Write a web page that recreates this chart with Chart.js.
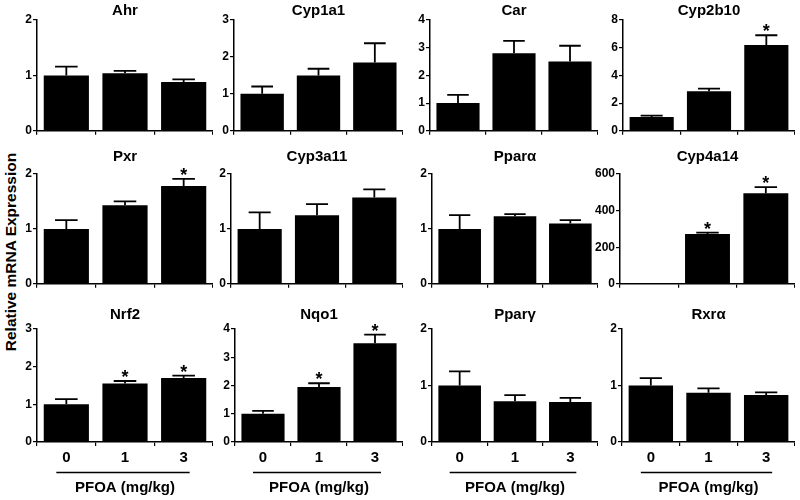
<!DOCTYPE html>
<html>
<head>
<meta charset="utf-8">
<script src="https://cdn.jsdelivr.net/npm/chart.js@4.4.0/dist/chart.umd.min.js"></script>
<style>
  html, body { margin: 0; padding: 0; background: #fff; }
  #wrap { position: relative; width: 800px; height: 500px; overflow: hidden; }
  #wrap canvas { position: absolute; }
  #ylabel {
    position: absolute; left: 11px; top: 252px;
    transform: translate(-50%, -50%) rotate(-90deg);
    font: bold 15.5px 'Liberation Sans', Arial, sans-serif;
    white-space: nowrap; color: #000;
  }
</style>
</head>
<body>
<div id="wrap"><div id="ylabel">Relative mRNA Expression</div></div>
<script>
// PFOA doses on the x axis
const doses = ['0', '1', '3'];
const genes = ['Ahr', 'Cyp1a1', 'Car', 'Cyp2b10', 'Pxr', 'Cyp3a11', 'Pparα', 'Cyp4a14', 'Nrf2', 'Nqo1', 'Pparγ', 'Rxrα'];

// mean relative expression per gene (0, 1, 3 mg/kg)
const meanExpr = [
  [1.0, 1.04, 0.88], [1.0, 1.5, 1.85], [1.0, 2.8, 2.5], [1.0, 2.85, 6.2],
  [1.0, 1.43, 1.78], [1.0, 1.25, 1.57], [1.0, 1.23, 1.1], [1, 272, 495],
  [1.0, 1.55, 1.7], [1.0, 1.95, 3.5], [1.0, 0.72, 0.71], [1.0, 0.87, 0.83]
];
// SEM
const semExpr = [
  [0.16, 0.04, 0.05], [0.2, 0.18, 0.52], [0.3, 0.45, 0.57], [0.1, 0.2, 0.7],
  [0.16, 0.07, 0.13], [0.3, 0.2, 0.15], [0.25, 0.04, 0.06], [0, 8, 33],
  [0.14, 0.07, 0.06], [0.1, 0.13, 0.3], [0.25, 0.11, 0.07], [0.13, 0.08, 0.05]
];
// * = significant vs control
const starred = [
  [0, 0, 0], [0, 0, 0], [0, 0, 0], [0, 0, 1],
  [0, 0, 1], [0, 0, 0], [0, 0, 0], [0, 1, 1],
  [0, 1, 1], [0, 1, 1], [0, 0, 0], [0, 0, 0]
];
const yMax = [2, 3, 4, 8, 2, 2, 2, 600, 3, 4, 2, 2];
const yStep = [1, 1, 1, 2, 1, 1, 1, 200, 1, 1, 1, 1];

// panel geometry (pixels in the 800x500 page)
const axisLeft = [[37, 234, 430, 623], [37, 231, 432, 620], [37, 235, 432, 622]];
const axisRight = [213, 403, 598, 795];
const plotTop = [20, 174, 329];
const plotBottom = [133, 286, 442];
const titleTop = [3, 149, 307];
const Y_W = 34;
const FONT = "'Liberation Sans', Arial, sans-serif";

const errorBars = {
  id: 'errorBars',
  afterDatasetsDraw(chart, args, opts) {
    const { ctx } = chart;
    const y = chart.scales.y;
    const bars = chart.getDatasetMeta(0).data;
    ctx.save();
    ctx.strokeStyle = '#000';
    ctx.fillStyle = '#000';
    ctx.lineWidth = 1.8;
    bars.forEach((bar, i) => {
      const top = y.getPixelForValue(opts.mean[i] + opts.sem[i]);
      const half = bar.width * 0.25;
      if (bar.y - top >= 1) {
        ctx.beginPath();
        ctx.moveTo(bar.x, bar.y);
        ctx.lineTo(bar.x, top);
        ctx.moveTo(bar.x - half, top);
        ctx.lineTo(bar.x + half, top);
        ctx.stroke();
      }
      if (opts.star[i]) {
        ctx.font = 'bold 18px ' + FONT;
        ctx.textAlign = 'center';
        ctx.textBaseline = 'alphabetic';
        ctx.fillText('*', bar.x, top + 2);
      }
    });
    if (opts.doseLine) {
      const ly = chart.chartArea.bottom + 30.5;
      ctx.lineWidth = 1.5;
      ctx.beginPath();
      ctx.moveTo(bars[0].x - 10, ly);
      ctx.lineTo(bars[bars.length - 1].x + 6, ly);
      ctx.stroke();
    }
    ctx.restore();
  }
};

const wrap = document.getElementById('wrap');

genes.forEach((gene, g) => {
  const row = Math.floor(g / 4), col = g % 4;
  const bottomRow = row === 2;
  const xh = bottomRow ? 500 - plotBottom[row] : 6;
  const left = axisLeft[row][col] - Y_W;
  const width = axisRight[col] - left;
  const height = plotBottom[row] + xh - titleTop[row];

  const canvas = document.createElement('canvas');
  canvas.width = width;
  canvas.height = height;
  canvas.style.left = left + 'px';
  canvas.style.top = titleTop[row] + 'px';
  canvas.style.width = width + 'px';
  canvas.style.height = height + 'px';
  wrap.appendChild(canvas);

  new Chart(canvas, {
    type: 'bar',
    data: {
      labels: doses,
      datasets: [{
        data: meanExpr[g],
        backgroundColor: '#000',
        borderWidth: 0,
        categoryPercentage: 1,
        barPercentage: 0.77
      }]
    },
    options: {
      responsive: false,
      animation: false,
      layout: { padding: 0 },
      plugins: {
        legend: { display: false },
        tooltip: { enabled: false },
        title: {
          display: true,
          text: gene,
          fullSize: false,
          color: '#000',
          font: { family: FONT, size: 15, weight: 'bold', lineHeight: '16px' },
          padding: { top: 0, bottom: plotTop[row] - titleTop[row] - 16 }
        },
        errorBars: { mean: meanExpr[g], sem: semExpr[g], star: starred[g], doseLine: bottomRow }
      },
      scales: {
        x: {
          offset: true,
          border: { color: '#000', width: 1.5 },
          grid: { display: true, drawOnChartArea: false, color: '#000', lineWidth: 1.2, tickLength: 4 },
          ticks: {
            display: bottomRow,
            color: '#000',
            padding: 3,
            font: { family: FONT, size: 15, weight: 'bold' }
          },
          title: {
            display: bottomRow,
            text: 'PFOA (mg/kg)',
            color: '#000',
            font: { family: FONT, size: 15, weight: 'bold', lineHeight: '18px' },
            padding: { top: 0, bottom: 3 }
          },
          afterFit(scale) { scale.height = xh; }
        },
        y: {
          min: 0,
          max: yMax[g],
          border: { color: '#000', width: 1.5 },
          grid: { display: true, drawOnChartArea: false, color: '#000', lineWidth: 1.2, tickLength: 4 },
          ticks: {
            stepSize: yStep[g],
            color: '#000',
            padding: 1,
            font: { family: FONT, size: 12, weight: 'bold' }
          },
          afterFit(scale) { scale.width = Y_W; }
        }
      }
    },
    plugins: [errorBars]
  });
});
</script>
</body>
</html>
